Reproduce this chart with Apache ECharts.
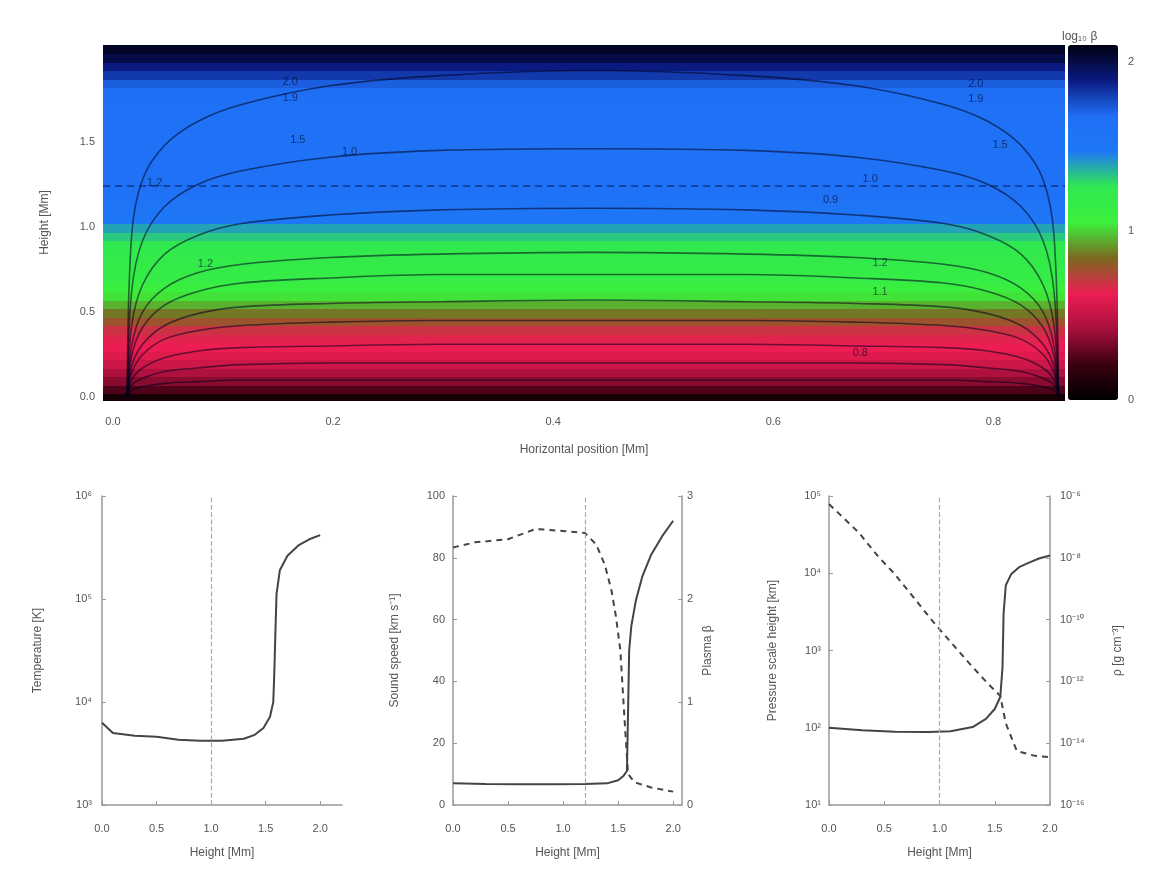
<!DOCTYPE html>
<html>
<head>
<meta charset="utf-8">
<script src="https://cdn.jsdelivr.net/npm/echarts@6/dist/echarts.min.js"></script>
<style>
html,body{margin:0;padding:0;background:#fff}
#main{width:1173px;height:871px}
</style>
</head>
<body>
<div id="main"></div>
<script>
// top panel: colour value vs height (bands are uniform along x)
var bandHeights = [0.00,0.05,0.10,0.15,0.20,0.25,0.30,0.35,0.40,0.45,0.50,0.55,0.60,0.65,0.70,0.75,0.80,0.85,0.90,0.95,
                   1.00,1.05,1.10,1.15,1.20,1.25,1.30,1.35,1.40,1.45,1.50,1.55,1.60,1.65,1.70,1.75,1.80,1.85,1.90,1.95,2.00,2.05];
var bandValues  = [0.08,0.25,0.36,0.44,0.53,0.59,0.63,0.65,0.69,0.78,0.86,0.95,1.03,1.09,1.16,1.18,1.20,1.22,1.26,1.32,
                   1.39,1.47,1.53,1.58,1.61,1.62,1.62,1.62,1.62,1.62,1.62,1.62,1.62,1.63,1.64,1.66,1.68,1.72,1.81,1.89,2.00,2.06];

// field lines of the arcade (x positions shared, heights per line)
var arcX = [0.013,0.017,0.027,0.047,0.077,0.117,0.197,0.297,0.436,0.575,0.675,0.755,0.795,0.825,0.845,0.855,0.859];
var arcHeights = [
  [0,0.95,1.28,1.48,1.62,1.72,1.83,1.89,1.92,1.89,1.83,1.72,1.62,1.48,1.28,0.95,0],
  [0,0.62,0.92,1.12,1.25,1.33,1.41,1.45,1.46,1.45,1.41,1.33,1.25,1.12,0.92,0.62,0],
  [0,0.42,0.66,0.84,0.95,1.02,1.07,1.10,1.11,1.10,1.07,1.02,0.95,0.84,0.66,0.42,0],
  [0,0.30,0.50,0.64,0.73,0.78,0.82,0.84,0.85,0.84,0.82,0.78,0.73,0.64,0.50,0.30,0],
  [0,0.24,0.41,0.54,0.62,0.67,0.70,0.72,0.72,0.72,0.70,0.67,0.62,0.54,0.41,0.24,0],
  [0,0.18,0.31,0.42,0.49,0.53,0.55,0.56,0.57,0.56,0.55,0.53,0.49,0.42,0.31,0.18,0],
  [0,0.14,0.25,0.34,0.39,0.42,0.44,0.45,0.45,0.45,0.44,0.42,0.39,0.34,0.25,0.14,0],
  [0,0.10,0.17,0.23,0.27,0.29,0.30,0.31,0.31,0.31,0.30,0.29,0.27,0.23,0.17,0.10,0],
  [0,0.07,0.11,0.15,0.17,0.19,0.20,0.20,0.20,0.20,0.20,0.19,0.17,0.15,0.11,0.07,0],
  [0,0.04,0.06,0.08,0.09,0.10,0.10,0.10,0.10,0.10,0.10,0.10,0.09,0.08,0.06,0.04,0]
];
// contour labels: x, height, text
var contourLabels = [
  [0.161,1.85,'2.0'],[0.161,1.76,'1.9'],[0.784,1.84,'2.0'],[0.784,1.75,'1.9'],
  [0.806,1.48,'1.5'],[0.168,1.51,'1.5'],[0.215,1.44,'1.0'],[0.038,1.26,'1.2'],
  [0.688,1.28,'1.0'],[0.652,1.16,'0.9'],[0.084,0.78,'1.2'],[0.697,0.79,'1.2'],
  [0.697,0.62,'1.1'],[0.679,0.26,'0.8']
];
var dashedHeight = 1.24;

// bottom left: temperature
var tempHeight = [0,0.1,0.3,0.5,0.7,0.9,1.1,1.3,1.4,1.48,1.54,1.57,1.58,1.59,1.6,1.63,1.7,1.8,1.9,2.0];
var tempValue  = [6300,5000,4700,4600,4300,4200,4200,4400,4800,5600,7200,10000,20000,50000,112000,190000,263000,331000,380000,417000];

// bottom middle: sound speed (solid) and plasma beta (dashed)
var csHeight = [0,0.3,0.6,0.9,1.2,1.4,1.5,1.55,1.58,1.59,1.6,1.62,1.66,1.72,1.8,1.9,2.0];
var csValue  = [7.0,6.8,6.7,6.7,6.8,7.0,8.0,9.5,11,30,50,58,66,74,81,87,92];
var betaHeight = [0,0.2,0.5,0.75,1.0,1.2,1.3,1.38,1.44,1.48,1.52,1.56,1.59,1.65,1.8,2.0];
var betaValue  = [2.50,2.55,2.58,2.68,2.66,2.64,2.53,2.33,2.08,1.83,1.50,0.80,0.30,0.22,0.17,0.13];

// bottom right: pressure scale height (solid) and density (dashed)
var scaleHeight = [0,0.3,0.6,0.9,1.1,1.3,1.42,1.5,1.55,1.57,1.58,1.6,1.65,1.72,1.8,1.9,2.0];
var scaleValue  = [100,93,89,88,90,102,130,175,250,600,3000,7000,9800,12000,13500,15500,17000];
var rhoHeight = [0,0.27,0.45,0.59,0.77,0.94,1.1,1.26,1.43,1.55,1.6,1.7,1.85,2.0];
var rhoValue  = [5.5e-7,6.5e-8,1.05e-8,3.1e-9,5.0e-10,8.7e-11,1.9e-11,4.2e-12,9.1e-13,3.4e-13,4.4e-14,5.6e-15,4.0e-15,3.5e-15];

var heightTicks = [0,0.5,1.0,1.5,2.0];
var posTicks = [0,0.2,0.4,0.6,0.8];

var X0 = -0.009, X1 = 0.865, Y0 = -0.018, Y1 = 2.07;

function zip(a, b) { return a.map(function (v, i) { return [v, b[i]]; }); }
var SUP = {'-':'⁻','0':'⁰','1':'¹','2':'²','3':'³','4':'⁴','5':'⁵','6':'⁶','7':'⁷','8':'⁸','9':'⁹'};
function pow10(v) {
  var e = Math.round(Math.log10(v));
  return '10' + String(e).split('').map(function (c) { return SUP[c]; }).join('');
}

var txt = {color:'#555', fontSize:11, fontFamily:'Liberation Sans'};
var nameTxt = {color:'#555', fontSize:12, fontFamily:'Liberation Sans'};
var axLine = {show:true, lineStyle:{color:'#999', width:1.5}};
var tick = {show:true, inside:true, length:4, lineStyle:{color:'#999'}};

function heightAxis(grid, max) {
  return {type:'value', gridIndex:grid, min:0, max:max, name:'Height [Mm]', nameLocation:'middle', nameGap:42,
    nameTextStyle:nameTxt, axisLine:axLine, axisTick:Object.assign({customValues:heightTicks}, tick), splitLine:{show:false},
    axisLabel:Object.assign({customValues:heightTicks, margin:18, formatter:function (v) { return v.toFixed(1); }}, txt)};
}

var arcSeries = arcHeights.map(function (hs) {
  return {type:'line', xAxisIndex:0, yAxisIndex:0, data:zip(arcX, hs), symbol:'none', smooth:0.35, silent:true,
    lineStyle:{color:'rgba(0,0,30,0.55)', width:1.6}, z:3};
});

var myChart = echarts.init(document.getElementById('main'));
var option = {
  backgroundColor:'#fff',
  animation:false,
  grid:[
    {left:103, top:45, width:962, height:355},
    {left:102, top:496, width:240, height:309},
    {left:453, top:496, width:229, height:309},
    {left:829, top:496, width:221, height:309},
    {left:1068, top:45, width:50, height:355}
  ],
  visualMap:{
    type:'continuous', min:0, max:2.1, dimension:2, seriesIndex:0, calculable:false, show:true,
    left:1068, top:45, itemWidth:50, itemHeight:355, padding:0, text:null, showLabel:false,
    inRange:{color:['#000000','#3a0010','#a8103c','#ec1d52','#7a6a20','#3cf03c','#30e850','#1e78f5','#1f6ff5','#0a1a80','#000010']}
  },
  graphic:[{type:'text', left:1062, top:31, style:{text:'log₁₀ β', fill:'#555', fontSize:12, fontFamily:'Liberation Sans'}}],
  xAxis:[
    {type:'value', gridIndex:0, min:X0, max:X1, name:'Horizontal position [Mm]', nameLocation:'middle', nameGap:44,
      nameTextStyle:nameTxt, axisLine:{show:false}, axisTick:{show:false}, splitLine:{show:false},
      axisLabel:Object.assign({customValues:posTicks, margin:16, formatter:function (v) { return v.toFixed(1); }}, txt)},
    heightAxis(1, 2.2),
    heightAxis(2, 2.08),
    heightAxis(3, 2.0),
    {type:'value', gridIndex:4, min:0, max:1, show:false}
  ],
  yAxis:[
    {type:'value', gridIndex:0, min:Y0, max:Y1, name:'Height [Mm]', nameLocation:'middle', nameGap:52,
      nameTextStyle:nameTxt, axisLine:{show:false}, axisTick:{show:false}, splitLine:{show:false},
      axisLabel:Object.assign({customValues:[0,0.5,1.0,1.5], margin:8, formatter:function (v) { return v.toFixed(1); }}, txt)},
    {type:'log', gridIndex:1, min:1e3, max:1e6, name:'Temperature [K]', nameLocation:'middle', nameGap:58,
      nameTextStyle:nameTxt, axisLine:axLine, axisTick:tick, splitLine:{show:false}, minorTick:{show:false},
      axisLabel:Object.assign({formatter:pow10, margin:10}, txt)},
    {type:'value', gridIndex:2, min:0, max:100, interval:20, name:'Sound speed [km s⁻¹]', nameLocation:'middle', nameGap:52,
      nameTextStyle:nameTxt, axisLine:axLine, axisTick:tick, splitLine:{show:false},
      axisLabel:Object.assign({margin:8}, txt)},
    {type:'value', gridIndex:2, position:'right', min:0, max:3, interval:1, name:'Plasma β', nameLocation:'middle', nameGap:20,
      nameTextStyle:nameTxt, axisLine:axLine, axisTick:tick, splitLine:{show:false},
      axisLabel:Object.assign({margin:5}, txt)},
    {type:'log', gridIndex:3, min:1e1, max:1e5, name:'Pressure scale height [km]', nameLocation:'middle', nameGap:50,
      nameTextStyle:nameTxt, axisLine:axLine, axisTick:tick, splitLine:{show:false},
      axisLabel:Object.assign({formatter:pow10, margin:8}, txt)},
    {type:'log', gridIndex:3, position:'right', logBase:100, min:1e-16, max:1e-6, name:'ρ [g cm⁻³]', nameLocation:'middle', nameGap:62,
      nameTextStyle:nameTxt, axisLine:axLine, axisTick:tick, splitLine:{show:false},
      axisLabel:Object.assign({formatter:pow10, margin:10}, txt)},
    {type:'value', gridIndex:4, position:'right', min:0, max:2.1, axisLine:{show:false}, axisTick:{show:false}, splitLine:{show:false},
      axisLabel:Object.assign({customValues:[0,1,2], margin:10}, txt)}
  ],
  series:[
    {type:'custom', xAxisIndex:0, yAxisIndex:0, silent:true, z:1,
      data:bandHeights.map(function (h, i) { return [0.43, h, bandValues[i]]; }),
      encode:{x:0, y:1},
      renderItem:function (params, api) {
        var h = api.value(1);
        var top = api.coord([X0, Math.min(h + 0.025, Y1)]);
        var bot = api.coord([X1, Math.max(h - 0.025, Y0)]);
        var y0 = Math.floor(top[1]);
        return {type:'rect', shape:{x:top[0], y:y0, width:bot[0] - top[0], height:Math.ceil(bot[1]) - y0 + 1},
          style:{fill:api.visual('color')}};
      }}
  ].concat(arcSeries).concat([
    {type:'scatter', xAxisIndex:0, yAxisIndex:0, symbolSize:0, silent:true, z:5,
      data:contourLabels,
      label:{show:true, position:'inside', formatter:function (p) { return p.data[2]; },
        color:'rgba(0,0,40,0.75)', fontSize:11, fontFamily:'Liberation Sans'},
      markLine:{silent:true, symbol:'none', label:{show:false},
        lineStyle:{type:[7,5], color:'rgba(0,0,50,0.55)', width:1.5},
        data:[{yAxis:dashedHeight}]}},
    {type:'line', xAxisIndex:1, yAxisIndex:1, data:zip(tempHeight, tempValue), symbol:'none',
      lineStyle:{color:'#444', width:2},
      markLine:{silent:true, symbol:'none', label:{show:false}, lineStyle:{type:'dashed', color:'#aaa', width:1.2}, data:[{xAxis:1.0}]}},
    {type:'line', xAxisIndex:2, yAxisIndex:2, data:zip(csHeight, csValue), symbol:'none',
      lineStyle:{color:'#444', width:2},
      markLine:{silent:true, symbol:'none', label:{show:false}, lineStyle:{type:'dashed', color:'#aaa', width:1.2}, data:[{xAxis:1.2}]}},
    {type:'line', xAxisIndex:2, yAxisIndex:3, data:zip(betaHeight, betaValue), symbol:'none',
      lineStyle:{color:'#444', width:2, type:[6,5]}},
    {type:'line', xAxisIndex:3, yAxisIndex:4, data:zip(scaleHeight, scaleValue), symbol:'none',
      lineStyle:{color:'#444', width:2},
      markLine:{silent:true, symbol:'none', label:{show:false}, lineStyle:{type:'dashed', color:'#aaa', width:1.2}, data:[{xAxis:1.0}]}},
    {type:'line', xAxisIndex:3, yAxisIndex:5, data:zip(rhoHeight, rhoValue), symbol:'none',
      lineStyle:{color:'#444', width:2, type:[6,5]}}
  ])
};
myChart.setOption(option);
</script>
</body>
</html>
